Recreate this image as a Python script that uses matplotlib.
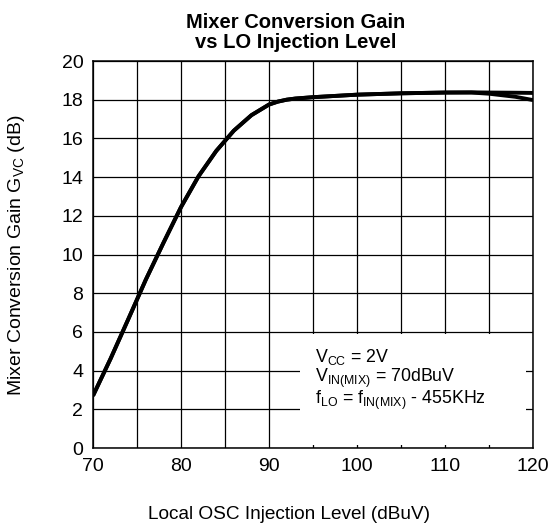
import matplotlib
matplotlib.use("Agg")
import matplotlib.pyplot as plt
from matplotlib.patches import Rectangle

plt.rcParams['font.family'] = ['Liberation Sans', 'DejaVu Sans']
plt.rcParams['mathtext.fontset'] = 'custom'
plt.rcParams['mathtext.rm'] = 'Liberation Sans'
plt.rcParams['mathtext.it'] = 'Liberation Sans'

# injection level (dBuV) and conversion gain (dB), two measured units
lo_level = [70, 72, 74, 76, 78, 80, 82, 84, 86, 88, 90, 91, 92, 93, 95, 100, 105, 110, 113, 115, 118, 120]
gain_a = [2.7, 4.62, 6.65, 8.7, 10.6, 12.45, 14.05, 15.35, 16.4, 17.2, 17.75, 17.9, 18.0, 18.06, 18.13,
          18.26, 18.33, 18.37, 18.38, 18.37, 18.36, 18.35]
gain_b = [2.7, 4.62, 6.65, 8.7, 10.6, 12.45, 14.05, 15.35, 16.4, 17.2, 17.75, 17.9, 18.0, 18.06, 18.13,
          18.26, 18.33, 18.37, 18.37, 18.31, 18.15, 17.98]

x_ticks = [70, 80, 90, 100, 110, 120]
y_ticks = list(range(0, 21, 2))

fig = plt.figure(figsize=(5.52, 5.30), dpi=100)
ax = fig.add_axes([0.1685, 0.1547, 0.7971, 0.7302])

ax.set_xlim(70, 120)
ax.set_ylim(0, 20)
ax.set_xticks(x_ticks)
ax.set_xticks(range(70, 121, 5), minor=True)
ax.set_yticks(y_ticks)
ax.tick_params(which='both', length=0, labelsize=14, pad=7)
ax.grid(True, which='both', color='black', linewidth=0.9, zorder=1)
for s in ax.spines.values():
    s.set_linewidth(1.1)
    s.set_zorder(5)

for g in (gain_a, gain_b):
    ax.plot(lo_level, g, color='black', lw=2.8, solid_joinstyle='round',
            solid_capstyle='butt', zorder=3)

# white panel for the test conditions
ax.add_patch(Rectangle((93.5, 0.15), 25.7, 5.75, facecolor='white', edgecolor='none', zorder=2))
ax.text(95.2, 4.72, r'V$_{\mathrm{CC}}$ = 2V', fontsize=12.8, va='center', zorder=4)
ax.text(95.2, 3.6, r'V$_{\mathrm{IN(MIX)}}$ = 70dBuV', fontsize=12.8, va='center', zorder=4)
ax.text(95.2, 2.45, r'f$_{\mathrm{LO}}$ = f$_{\mathrm{IN(MIX)}}$ - 455KHz', fontsize=12.8, va='center', zorder=4)

fig.text(0.535, 0.975, 'Mixer Conversion Gain\nvs LO Injection Level', ha='center', va='top',
         fontsize=14.5, fontweight='bold', linespacing=1.05)
fig.text(0.524, 0.03, 'Local OSC Injection Level (dBuV)', ha='center', va='center', fontsize=13.7)
fig.text(0.029, 0.519, r'Mixer Conversion Gain G$_{\mathrm{VC}}$ (dB)', ha='center', va='center',
         rotation=90, fontsize=14)

fig.savefig('out.png', dpi=100)
